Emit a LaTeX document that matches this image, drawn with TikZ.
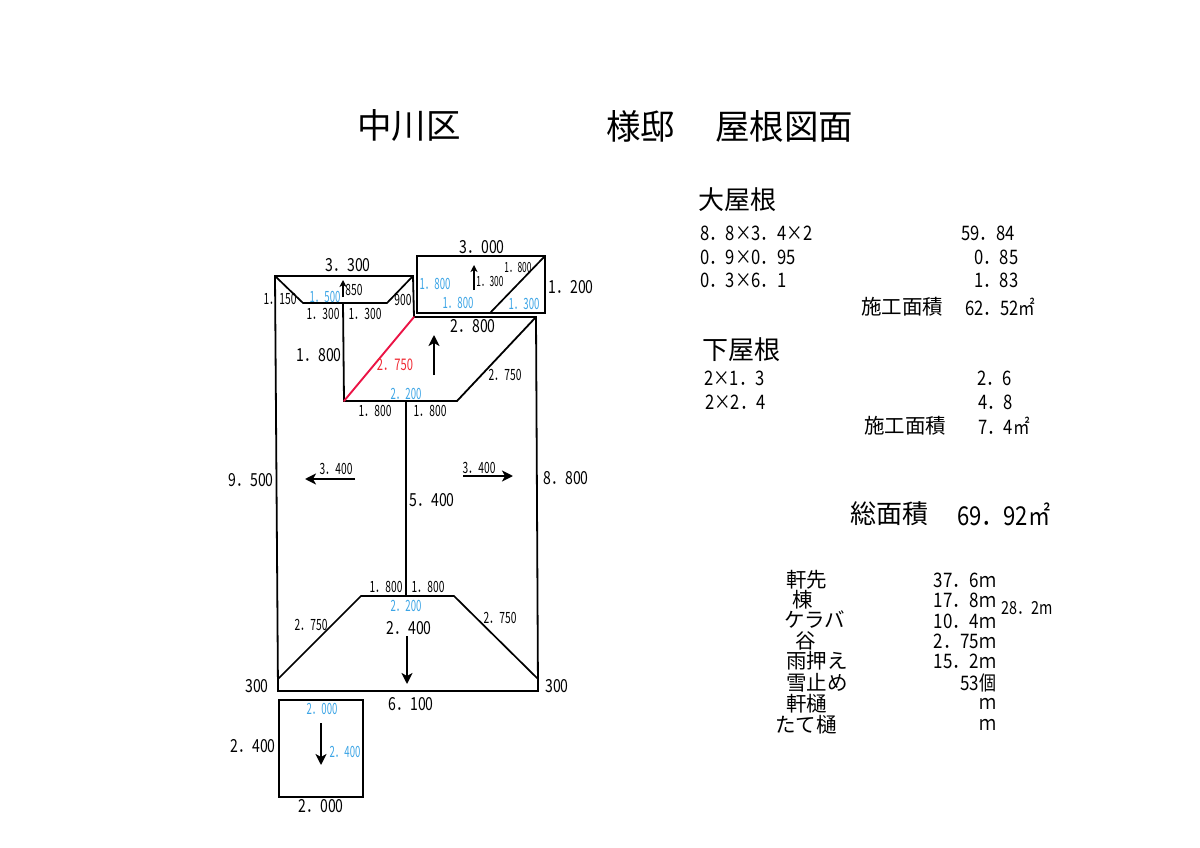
\documentclass[tikz,border=0pt]{standalone}
\usepackage{fontspec}
\setmainfont{Noto Sans CJK JP}
\usetikzlibrary{arrows.meta}
\newcommand{\fsz}[1]{\fontsize{#1}{#1}\selectfont}
\definecolor{dimblue}{RGB}{60,165,230}
\definecolor{valley}{RGB}{235,20,70}
\definecolor{valleytxt}{RGB}{240,40,50}
\tikzset{
  txt/.style={inner sep=0pt,outer sep=0pt,text=black},
  dimL/.style={txt,font=\fsz{18},xscale=.78},
  dimS/.style={txt,font=\fsz{15.5},xscale=.66},
  dimT/.style={txt,font=\fsz{14},xscale=.6},
  dimB/.style={txt,font=\fsz{15.5},xscale=.62,text=dimblue},
  dimR/.style={txt,text=valleytxt,font=\fsz{16},xscale=.7},
  title/.style={txt,anchor=west,font=\fsz{34.5}},
  head/.style={txt,anchor=west,font=\fsz{26}},
  row/.style={txt,anchor=west,font=\fsz{20},xscale=.83},
  rowb/.style={txt,anchor=west,font=\fsz{20.5}},
  rowv/.style={txt,anchor=east,font=\fsz{20},xscale=.85},
  roof/.style={draw=black,line width=1.8pt,line join=miter,line cap=round},
  thin roof/.style={draw=black,line width=1.7pt,line cap=round},
  fall/.style={draw=black,line width=2pt,-{Stealth[length=11pt,width=11pt,inset=3pt]}},
  fallthin/.style={draw=black,line width=1.2pt,-{Stealth[length=7pt,width=7pt,inset=2pt]}}
}
\begin{document}
\begin{tikzpicture}[x=1pt,y=-1pt]
\useasboundingbox (0,0) rectangle (1200,848);
\fill[white] (0,0) rectangle (1200,848);
% outline of the main roof
\coordinate (tl) at (275,276); \coordinate (tm) at (413,276);
\coordinate (vr) at (414,317); \coordinate (tr) at (536,317);
\coordinate (br) at (538,691); \coordinate (bl) at (278,691);
\draw[roof] (tl)--(tm)--(vr)--(tr)--(br)--(bl)--cycle;
% upper trapezoid
\coordinate (ua) at (303,303); \coordinate (ub) at (387,303);
\coordinate (uv) at (343,303); \coordinate (va) at (344,401); \coordinate (vb) at (457,401);
\draw[thin roof] (tl)--(ua)--(ub)--(tm);
\draw[roof] (uv)--(va)--(vb)--(tr);
\draw[valley,line width=1.9pt,line cap=round] (va)--(vr);
% ridge and lower hip
\coordinate (ra) at (406,401); \coordinate (rb) at (406,596);
\coordinate (la) at (361,596); \coordinate (lb) at (454,596);
\coordinate (lc) at (278,679); \coordinate (ld) at (538,679);
\draw[roof] (ra)--(rb);
\draw[thin roof] (lc)--(la)--(lb)--(ld);
% upper right rectangle
\coordinate (ra1) at (417,256); \coordinate (ra2) at (545,256);
\coordinate (ra3) at (545,313); \coordinate (ra4) at (417,313); \coordinate (ra5) at (490,313);
\draw[roof] (ra1)--(ra2)--(ra3)--(ra4)--cycle;
\draw[thin roof] (ra5)--(ra2);
% lower small rectangle
\draw[thin roof] (279,700) rectangle (363,797);
% fall arrows
\coordinate (a1) at (343,297); \coordinate (a2) at (343,280);
\coordinate (a3) at (474,290); \coordinate (a4) at (474,265);
\coordinate (a5) at (434,375); \coordinate (a6) at (434,335);
\coordinate (a7) at (355,479); \coordinate (a8) at (305,479);
\coordinate (a9) at (463,476); \coordinate (a10) at (513,476);
\coordinate (a11) at (407,636); \coordinate (a12) at (407,684);
\coordinate (a13) at (321,723); \coordinate (a14) at (321,765);
\draw[fallthin] (a1)--(a2);
\draw[fallthin] (a3)--(a4);
\draw[fall] (a5)--(a6);
\draw[fall] (a7)--(a8);
\draw[fall] (a9)--(a10);
\draw[fall] (a11)--(a12);
\draw[fall] (a13)--(a14);
% title
\node[title] (t1) at (357,126) {中川区};
\node[title] (t2) at (606,126) {様邸};
\node[title] (t3) at (715,126) {屋根図面};
% dimensions
\node[dimL] (d1) at (348,265) {3．300};
\node[dimL] (d2) at (482,247) {3．000};
\node[dimL] (d3) at (571,287) {1．200};
\node[dimL] (d4) at (473,326) {2．800};
\node[dimL] (d5) at (319,355) {1．800};
\node[dimS] (d6) at (280,299) {1．150};
\node[dimB] (d7) at (325,297) {1．500};
\node[dimS] (d8) at (354,290) {850};
\node[dimS] (d9) at (403,300) {900};
\node[dimS] (d10) at (323,314) {1．300};
\node[dimS] (d11) at (365,314) {1．300};
\node[dimB] (d12) at (435,284) {1．800};
\node[dimB] (d13) at (458,303) {1．800};
\node[dimB] (d14) at (524,304) {1．300};
\node[dimT] (d15) at (490,282) {1．300};
\node[dimT] (d16) at (518,268) {1．800};
\node[dimR] (d17) at (395,365) {2．750};
\node[dimS] (d18) at (505,375) {2．750};
\node[dimB] (d19) at (406,394) {2．200};
\node[dimS] (d20) at (375,411) {1．800};
\node[dimS] (d21) at (430,411) {1．800};
\node[dimL] (d22) at (251,480) {9．500};
\node[dimS] (d23) at (336,469) {3．400};
\node[dimS] (d24) at (479,468) {3．400};
\node[dimL] (d25) at (432,500) {5．400};
\node[dimL] (d26) at (566,478) {8．800};
\node[dimS] (d27) at (386,587) {1．800};
\node[dimS] (d28) at (428,587) {1．800};
\node[dimB] (d29) at (406,606) {2．200};
\node[dimL] (d30) at (409,628) {2．400};
\node[dimS] (d31) at (311,625) {2．750};
\node[dimS] (d32) at (500,618) {2．750};
\node[dimL] (d33) at (257,686) {300};
\node[dimL] (d34) at (557,686) {300};
\node[dimL] (d35) at (411,704) {6．100};
\node[dimB] (d36) at (322,709) {2．000};
\node[dimB] (d37) at (345,752) {2．400};
\node[dimL] (d38) at (253,746) {2．400};
\node[dimL] (d39) at (321,806) {2．000};
% quantities
\node[head] (h1) at (698,200) {大屋根};
\node[row] (r1) at (700,233) {8．8×3．4×2};
\node[row] (r2) at (700,257) {0．9×0．95};
\node[row] (r3) at (700,280) {0．3×6．1};
\node[row] (v1) at (961,233) {59．84};
\node[row] (v2) at (974,257) {0．85};
\node[row] (v3) at (974,280) {1．83};
\node[rowb] (s1) at (861,307) {施工面積};
\node[row] (s2) at (965,307) {62．52㎡};
\node[head] (h2) at (702,350) {下屋根};
\node[row] (r4) at (704,378) {2×1．3};
\node[row] (r5) at (705,402) {2×2．4};
\node[row] (v4) at (977,378) {2．6};
\node[row] (v5) at (978,402) {4．8};
\node[rowb] (s3) at (864,426) {施工面積};
\node[row] (s4) at (978,426) {7．4㎡};
\node[head] (h3) at (850,514) {総面積};
\node[txt,anchor=west,font=\fsz{26},xscale=.85] (h4) at (957,514) {69．92㎡};
% lengths
\node[rowb] (m1) at (786,580) {軒先};
\node[rowb] (m2) at (792,600) {棟};
\node[rowb] (m3) at (784,620) {ケラバ};
\node[rowb] (m4) at (795,641) {谷};
\node[rowb] (m5) at (786,661) {雨押え};
\node[rowb] (m6) at (786,683) {雪止め};
\node[rowb] (m7) at (786,704) {軒樋};
\node[rowb] (m8) at (775,725) {たて樋};
\node[rowv] (n1) at (996,580) {37．6ｍ};
\node[rowv] (n2) at (996,600) {17．8ｍ};
\node[rowv] (n3) at (996,621) {10．4ｍ};
\node[rowv] (n4) at (996,641) {2．75ｍ};
\node[rowv] (n5) at (996,661) {15．2ｍ};
\node[rowv] (n6) at (996,683) {53個};
\node[rowv] (n7) at (996,704) {ｍ};
\node[rowv] (n8) at (996,725) {ｍ};
\node[txt,font=\fsz{18},xscale=.8] (n9) at (1027,608) {28．2m};
\end{tikzpicture}
\end{document}
